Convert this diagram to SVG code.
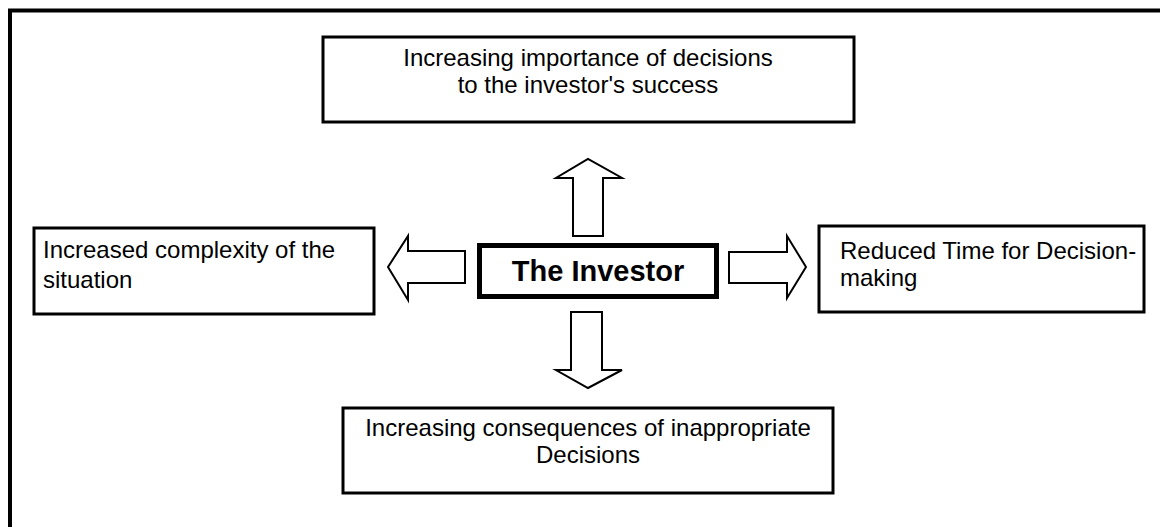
<svg xmlns="http://www.w3.org/2000/svg" width="1160" height="527" viewBox="0 0 1160 527">
  <style>
    .box { fill: #ffffff; stroke: #000000; stroke-width: 3; }
    .core { fill: #ffffff; stroke: #000000; stroke-width: 5; }
    .arrow { fill: #ffffff; stroke: #000000; stroke-width: 2; stroke-linejoin: miter; }
    .label { font-family: "Liberation Sans", Arial, sans-serif; font-size: 24px; fill: #000000; }
    .title { font-family: "Liberation Sans", Arial, sans-serif; font-size: 29px; font-weight: bold; fill: #000000; }
  </style>
  <rect width="1160" height="527" fill="#ffffff"/>

  <!-- frame: top and left edges only -->
  <path d="M10 527 V10.5 H1160" fill="none" stroke="#000000" stroke-width="4"/>

  <!-- block arrows pointing out from the centre -->
  <g id="connectors">
    <polygon class="arrow" points="573,236 573,178 556,178 588,159 622,178 603,178 603,236"/>
    <polygon class="arrow" points="571,312 571,370 556,370 588,388 622,370 602,370 602,312"/>
    <polygon class="arrow" points="465,251 408,251 408,236 388,267 408,300 408,283 465,283"/>
    <polygon class="arrow" points="729,252 787,252 787,236 806,267 787,298 787,283 729,283"/>
  </g>

  <g id="investor">
    <rect class="core" x="479.5" y="245.5" width="237" height="51"/>
    <text class="title" x="598" y="281" text-anchor="middle">The Investor</text>
  </g>

  <g id="importance">
    <rect class="box" x="323" y="37" width="531" height="85"/>
    <text class="label" x="588" y="66" text-anchor="middle">Increasing importance of decisions</text>
    <text class="label" x="588" y="93" text-anchor="middle">to the investor's success</text>
  </g>

  <g id="complexity">
    <rect class="box" x="34" y="228" width="340" height="86"/>
    <text class="label" x="43" y="258">Increased complexity of the</text>
    <text class="label" x="43" y="288">situation</text>
  </g>

  <g id="time">
    <rect class="box" x="819" y="226" width="325" height="86"/>
    <text class="label" x="840" y="259">Reduced Time for Decision-</text>
    <text class="label" x="840" y="286">making</text>
  </g>

  <g id="consequences">
    <rect class="box" x="343" y="408" width="490" height="85"/>
    <text class="label" x="588" y="436" text-anchor="middle">Increasing consequences of inappropriate</text>
    <text class="label" x="588" y="463" text-anchor="middle">Decisions</text>
  </g>
</svg>
